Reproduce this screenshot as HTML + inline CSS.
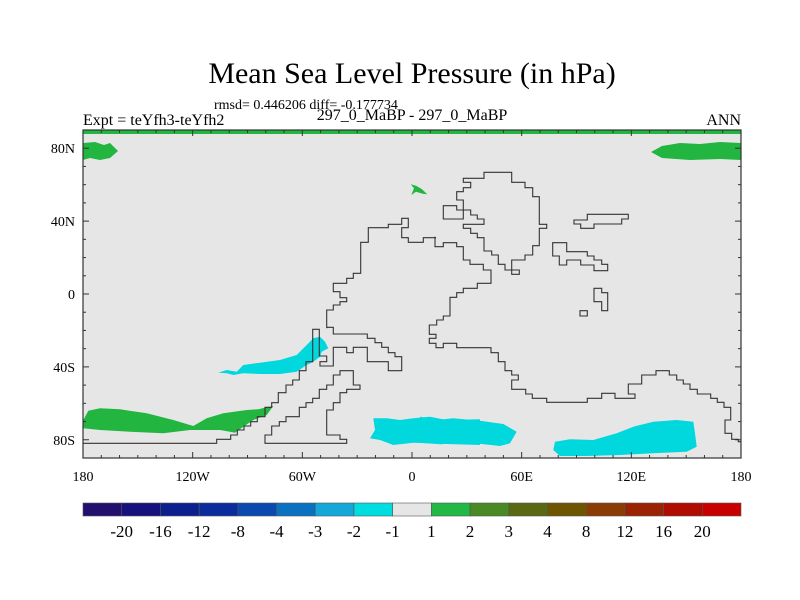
<!DOCTYPE html>
<html><head><meta charset="utf-8"><style>
html,body{margin:0;padding:0;background:#fff;}
svg{display:block;font-family:"Liberation Serif",serif;}
</style></head><body>
<svg id="chart" width="800" height="600" viewBox="0 0 800 600">
<text x="412" y="83" font-size="30" text-anchor="middle">Mean Sea Level Pressure (in hPa)</text>
<text x="214" y="109" font-size="14">rmsd= 0.446206 diff= -0.177734</text>
<text x="83" y="125" font-size="16">Expt = teYfh3-teYfh2</text>
<text x="412" y="120" font-size="16" text-anchor="middle">297_0_MaBP - 297_0_MaBP</text>
<text x="741" y="125" font-size="16" text-anchor="end">ANN</text>
<rect x="83" y="130" width="658" height="328" fill="#e6e6e6"/>
<g id="fields"></g>
<g id="coasts" fill="none" stroke="#333" stroke-width="1.1"></g>
<rect x="83" y="130" width="658" height="328" fill="none" stroke="#333" stroke-width="1.2"/>
<g id="axes"></g>
<g id="colorbar"></g>
</svg>
<script>
const lonTicks=[-180,-120,-60,0,60,120,180];
const lonLabels=["180","120W","60W","0","60E","120E","180"];
const latTicks=[80,40,0,-40,-80];
const latLabels=["80N","40N","0","40S","80S"];
const cbColors=["#23106e","#16117c","#0c1f8e","#0a2c9c","#0a4aae","#0a70c2","#14a8d8","#00dde0","#e6e6e6","#22b845","#4a8a24","#5b6812","#6e5600","#8a3c02","#9c2204","#b00c02","#c80000"];
const cbLabels=["-20","-16","-12","-8","-4","-3","-2","-1","1","2","3","4","8","12","16","20"];

const NS="http://www.w3.org/2000/svg";
const X0=83,W=658,Y0=130,H=328;
function xLon(l){return X0+(l+180)*W/360;}
function yLat(l){return Y0+(90-l)*H/180;}
function mk(tag,attrs,parent){const e=document.createElementNS(NS,tag);for(const k in attrs)e.setAttribute(k,attrs[k]);parent.appendChild(e);return e;}
function fz(ox,oy,pts){return pts.map(p=>[ox+p[0]/3,oy+p[1]/3]);}
const A=(pts)=>fz(80,320,pts), B=(pts)=>fz(310,165,pts), C=(pts)=>fz(420,200,pts);
function ptsStr(a){return a.map(p=>p[0].toFixed(1)+","+p[1].toFixed(1)).join(" ");}

const fields=document.getElementById('fields');
const CY="#00d8de",GR="#22b540";
function poly(pts,fill,name){const p=mk('polygon',{points:ptsStr(pts),fill:fill},fields);

}
const s=mk('rect',{x:83,y:130,width:658,height:4,fill:GR},fields);


poly([[83,143],[95,142],[104,145],[110,143],[118,151],[110,158],[100,160],[90,158],[83,160]],GR,'green-patch-arctic-west');
poly([[741,143],[720,142],[700,144],[680,143],[662,146],[651,152],[662,158],[690,160],[720,159],[741,160]],GR,'green-patch-arctic-east');
poly(B([[302,58],[318,62],[335,72],[352,88],[338,86],[318,80],[304,90],[312,70]]),GR,'green-patch-north');
poly(A([[415,158],[440,150],[470,155],[490,135],[540,128],[600,120],[650,105],[680,75],[700,55],[720,50],[735,65],[745,85],[725,95],[720,110],[700,125],[680,135],[650,155],[600,162],[540,162],[490,160],[460,165],[440,160]]),CY,'cyan-patch-south-pacific');
poly(A([[10,300],[25,272],[60,265],[120,268],[200,280],[280,300],[340,318],[380,295],[430,280],[500,270],[535,268],[560,262],[580,258],[560,285],[520,300],[490,320],[465,338],[450,335],[420,330],[330,330],[250,340],[150,335],[60,330],[10,325]]),GR,'green-patch-southern-ocean');
poly(A([[880,295],[920,295],[960,300],[1000,295],[1050,290],[1100,300],[1200,298],[1200,375],[1100,372],[1000,368],[940,375],[900,360],[870,355],[885,330]]),CY,'cyan-patch-south-atlantic-west');
poly(C([[0,650],[50,660],[100,655],[180,662],[250,672],[290,695],[270,730],[240,738],[150,728],[60,733],[0,728]]),CY,'cyan-patch-south-atlantic-east');
poly(C([[405,725],[450,718],[520,720],[590,700],[640,680],[700,665],[770,660],[820,665],[825,700],[830,740],[800,755],[700,760],[600,765],[500,768],[420,768],[400,750]]),CY,'cyan-patch-south-indian');

const coasts=document.getElementById('coasts');
function line(pts,name,closed){const e=mk(closed?'polygon':'polyline',{points:ptsStr(pts)},coasts);

}
const main=[].concat(
 A([[9,370],[410,370],[410,358],[452,358],[452,345],[472,345],[472,330],[492,330],[492,318],[512,318],[512,305],[532,305],[532,290],[555,290],[555,262],[575,262],[575,248],[595,248],[595,218],[618,218],[618,195],[638,195],[638,180],[658,180],[658,152],[678,152],[678,125],[698,125],[698,28],[718,28],[718,108],[740,108],[740,125],[720,125],[720,138],[760,138],[760,82],[800,82],[800,98],[820,98],[820,82],[862,82],[862,125],[925,125],[925,152],[965,152],[965,110],[945,110],[945,98],[925,98],[925,82],[905,82],[905,68],[885,68],[885,55],[862,55],[862,42],[760,42],[760,22],[740,22]]),
 B([[50,490],[50,435],[70,435],[70,420],[90,420],[90,410],[110,410],[110,398],[90,398],[90,380],[70,380],[70,355],[110,355],[110,340],[130,340],[130,325],[152,325],[152,232],[175,232],[175,188],[235,188],[235,178],[275,178],[275,160],[295,160],[295,188],[275,188],[275,218],[295,218],[295,232],[340,232],[340,218],[378,218]]),
 C([[45,112],[45,140],[70,140],[70,128],[110,128],[110,140],[130,140],[130,180],[150,180],[150,193],[190,193],[190,210],[213,210],[213,250],[172,250],[172,265],[130,265],[130,278],[110,278],[110,292],[90,292],[90,348],[70,348],[70,360],[50,360],[50,375],[28,375],[28,403],[48,403],[48,415],[28,415],[28,430],[48,430],[48,443],[70,443],[70,430],[110,430],[110,443],[213,443],[213,458],[235,458],[235,485],[255,485],[255,512],[275,512],[275,525],[295,525],[295,540],[275,540],[275,568],[317,568],[317,582],[337,582],[337,595],[380,595],[380,607],[502,607],[502,595],[545,595],[545,580],[585,580],[585,595],[645,595],[645,582],[625,582],[625,552],[665,552],[665,525],[708,525],[708,512],[748,512],[748,525],[770,525],[770,540],[790,540],[790,552],[810,552],[810,568],[832,568],[832,582],[872,582],[872,595],[892,595],[892,607],[912,607],[912,622],[932,622],[932,660],[915,660],[915,700],[935,700],[935,718],[955,718],[955,725],[963,725]]));
line(main,'coastline-main',false);
line(A([[555,370],[800,370],[800,358],[780,358],[780,345],[740,345],[740,270],[760,270],[760,248],[780,248],[780,218],[800,218],[800,208],[840,208],[840,195],[820,195],[820,152],[780,152],[780,165],[760,165],[760,195],[740,195],[740,208],[718,208],[718,235],[698,235],[698,248],[678,248],[678,262],[658,262],[658,290],[618,290],[618,305],[598,305],[598,318],[575,318],[575,345],[555,345]]),'coastline-south-landmass',true);
line(B([[460,40],[522,40],[522,22],[605,22],[605,52],[645,52],[645,68],[668,68],[668,95],[688,95],[688,178],[710,178],[710,190],[688,190],[688,242],[668,242],[668,270],[645,270],[645,285],[605,285],[605,315],[628,315],[628,328],[605,328],[605,315],[585,315],[585,298],[565,298],[565,270],[545,270],[545,258],[522,258],[522,218],[502,218],[502,205],[482,205],[482,190],[460,190],[460,178],[522,178],[522,162],[502,162],[502,150],[482,150],[482,135],[440,135],[440,122],[400,122],[400,162],[460,162],[460,105],[440,105],[440,80],[460,80],[460,68],[482,68],[482,52],[460,52]]),'coastline-north-ring',true);
line(C([[398,128],[440,128],[440,155],[502,155],[502,168],[522,168],[522,180],[545,180],[545,193],[563,193],[563,212],[522,212],[522,195],[482,195],[482,180],[440,180],[440,195],[418,195],[418,168],[398,168]]),'coastline-east-island',true);
line(C([[462,60],[502,60],[502,43],[625,43],[625,57],[605,57],[605,72],[522,72],[522,85],[482,85],[482,72],[462,72]]),'coastline-northeast-island',true);
line(C([[522,265],[545,265],[545,278],[563,278],[563,332],[545,332],[545,305],[522,305]]),'coastline-small-island',true);
line(C([[480,332],[502,332],[502,348],[480,348]]),'coastline-tiny-island',true);

const ax=document.getElementById('axes');
for(let l=-170;l<180;l+=10){const x=xLon(l);const len=(l%60===0)?6:3;
 const t1=mk('line',{x1:x,x2:x,y1:458,y2:458-len,stroke:'#333'},ax);
 
 
 const t2=mk('line',{x1:x,x2:x,y1:130,y2:130+len,stroke:'#333'},ax);
 
 }
for(let l=-80;l<=80;l+=10){const y=yLat(l);const len=(l%40===0)?6:3;
 const t1=mk('line',{x1:83,x2:83+len,y1:y,y2:y,stroke:'#333'},ax);
 
 
 const t2=mk('line',{x1:741,x2:741-len,y1:y,y2:y,stroke:'#333'},ax);
 
 }
lonTicks.forEach((l,i)=>{const t=mk('text',{x:xLon(l),y:481,'font-size':14,'text-anchor':'middle'},ax);t.textContent=lonLabels[i];
 
 });
latTicks.forEach((l,i)=>{const t=mk('text',{x:75,y:yLat(l)+5,'font-size':14,'text-anchor':'end'},ax);t.textContent=latLabels[i];
 
 });

const cb=document.getElementById('colorbar');
const bw=658/cbColors.length;
cbColors.forEach((c,i)=>{const r=mk('rect',{x:83+i*bw,y:503,width:bw,height:13,fill:c,stroke:'#555','stroke-width':0.6},cb);
 
 });
cbLabels.forEach((s,i)=>{const t=mk('text',{x:83+(i+1)*bw,y:537,'font-size':17,'text-anchor':'middle'},cb);t.textContent=s;
 
 });
</script>
</body></html>
